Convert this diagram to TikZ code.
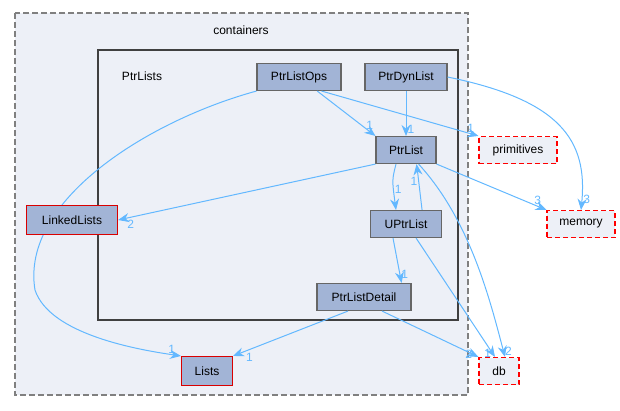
\documentclass[tikz,border=0pt]{standalone}
\usepackage{fontspec}
\setmainfont{Liberation Sans}
\usetikzlibrary{arrows.meta}
\definecolor{edge}{HTML}{63B8FF}
\definecolor{nfill}{HTML}{A2B4D6}
\definecolor{bg}{HTML}{EDF0F7}
\begin{document}
\begin{tikzpicture}[x=1pt,y=-1pt,
  every node/.style={font=\fontsize{12}{14}\selectfont},
  dir/.style={draw=black!60,line width=1.1pt,fill=nfill,minimum height=27pt,inner xsep=5pt},
  rdir/.style={draw=red!85!black,line width=1.1pt,fill=nfill,minimum height=29pt,inner xsep=5pt},
  ext/.style={draw=red,line width=1.1pt,dash pattern=on 5pt off 3pt,fill=bg,minimum height=27pt,inner xsep=6pt},
  dep/.style={draw=edge,line width=1pt,-{Stealth[length=11pt,width=9pt]}},
  lab/.style={text=edge,font=\fontsize{12}{14}\selectfont,inner sep=1pt}]
\useasboundingbox (0,0) rectangle (620,410);
\draw[gray,dash pattern=on 6pt off 3pt,fill=bg,line width=1.2pt] (15,13) rectangle (468,395);
\node (ctitle) at (241,30) {containers};
\draw[black!75,line width=1.8pt,fill=bg] (98,50) rectangle (458,320);
\node (ptitle) at (142,76) {PtrLists};
\node[dir,minimum width=84pt] (ops) at (299,77) {PtrListOps};
\node[dir,minimum width=82pt] (dyn) at (406,77) {PtrDynList};
\node[dir,minimum width=60pt] (pl) at (406,150) {PtrList};
\node[dir,minimum width=71pt] (upl) at (406,224) {UPtrList};
\node[dir,minimum width=94pt] (det) at (364,297) {PtrListDetail};
\node[rdir,minimum width=51pt] (lists) at (207,371) {Lists};
\node[ext,minimum width=78pt] (prim) at (518,150) {primitives};
\node[ext,minimum width=68pt] (mem) at (581,224) {memory};
\node[ext,minimum width=40pt] (db) at (499,371) {db};

\draw[dep] (ops.south west) .. controls (150,120) and (20,200) .. (35,290) .. controls (50,335) and (140,350) .. (lists.north west) node[lab,pos=0.93,above] {1};
\node[rdir,minimum width=91pt] (ll) at (72,220) {LinkedLists};
\draw[dep] (ops) -- (pl.north west) node[lab,pos=0.9,above] {1};
\draw[dep] ([xshift=-20pt]ops.south east) -- (prim.north west) node[lab,pos=0.95,above] {1};
\draw[dep] (dyn) -- (pl) node[lab,pos=0.85,right] {1};
\draw[dep] (dyn.east) .. controls (560,100) and (588,140) .. (mem.north) node[lab,pos=0.95,right] {3};
\draw[dep] (pl.south west) -- (ll.east) node[lab,pos=0.97,below right] {2};
\draw[dep] ([xshift=-10pt]pl.south) .. controls (392,180) .. ([xshift=-10pt]upl.north) node[lab,pos=0.7,right] {1};
\draw[dep] ([xshift=-20pt]upl.north east) .. controls (420,190) .. ([xshift=-20pt]pl.south east) node[lab,pos=0.7,left] {1};
\draw[dep] (pl.south east) -- (mem.north west) node[lab,pos=0.92,above] {3};
\draw[dep] ([xshift=-18pt]pl.south east) .. controls (470,220) and (490,300) .. ([xshift=6pt]db.north) node[lab,pos=0.97,right] {2};
\draw[dep] ([xshift=-13pt]upl.south) -- ([xshift=-10pt]det.north east) node[lab,pos=0.8,right] {1};
\draw[dep] ([xshift=-26pt]upl.south east) -- ([xshift=-4pt]db.north) node[lab,pos=0.97,left] {1};
\draw[dep] ([xshift=-16pt]det.south) -- (lists.north east) node[lab,pos=0.9,below right] {1};
\draw[dep] ([xshift=18pt]det.south) -- (db.north west) node[lab,pos=0.95,left] {2};
\end{tikzpicture}
\end{document}
